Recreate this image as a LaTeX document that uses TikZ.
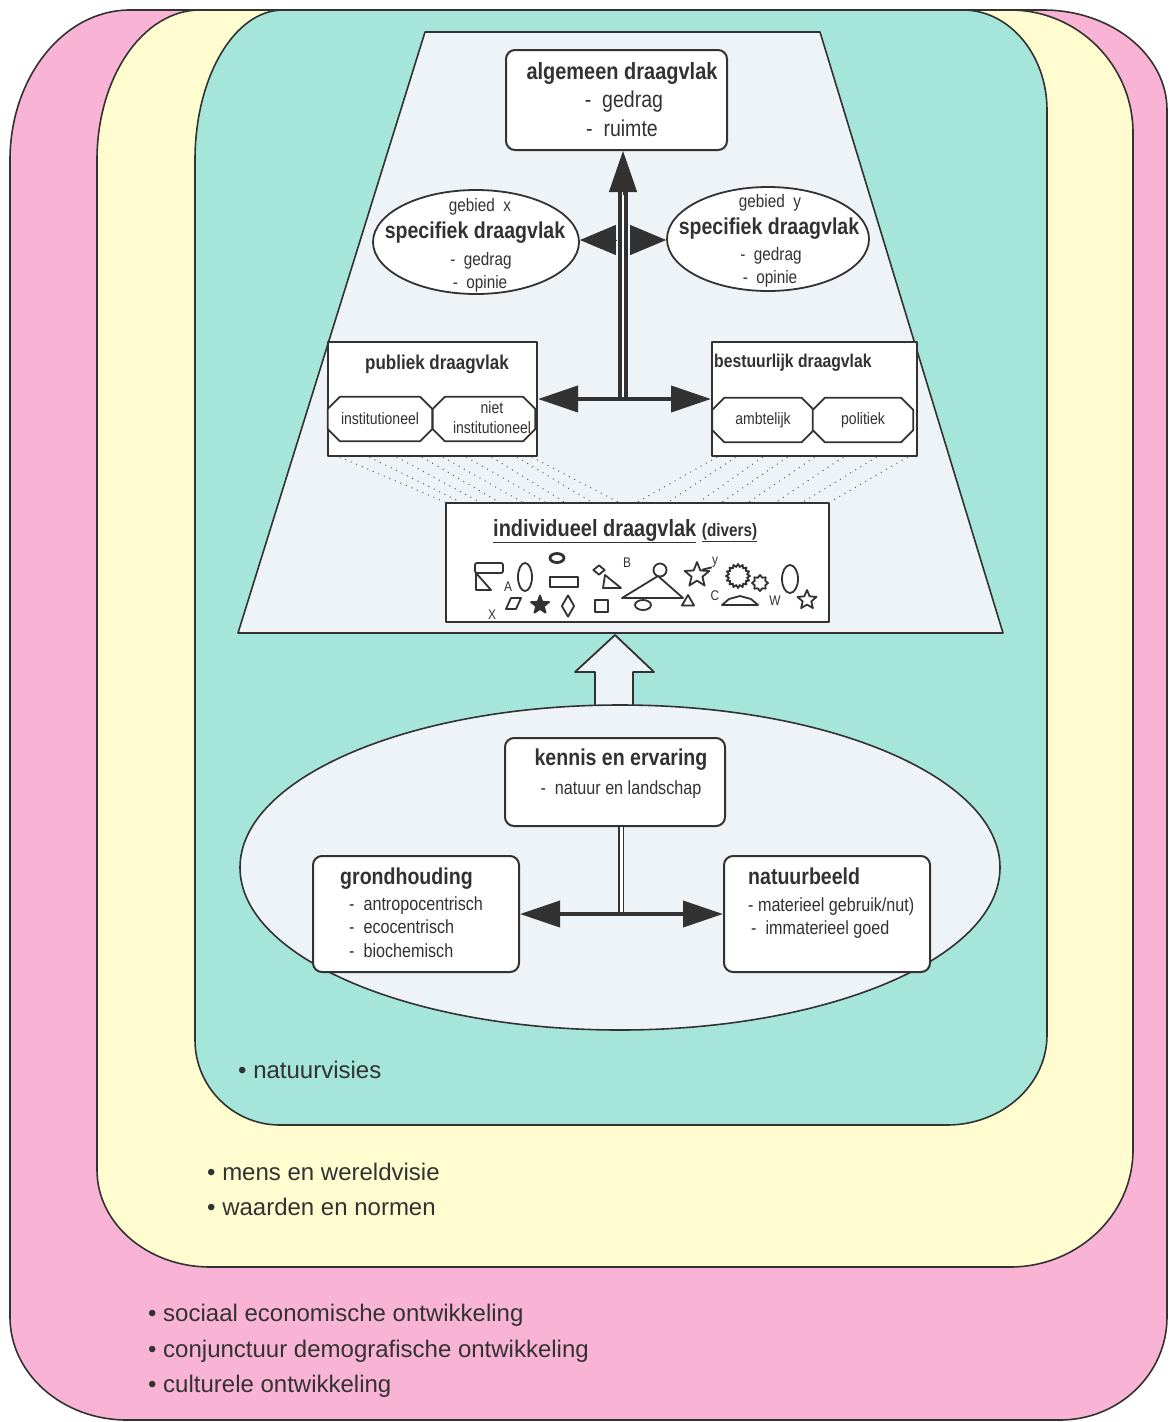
\documentclass[tikz,border=0pt]{standalone}
\usepackage{fontspec}
\setmainfont{Liberation Sans}
\newfontfamily\nf{Liberation Sans}[FakeStretch=0.85]
\usetikzlibrary{shapes.geometric,arrows.meta,calc}

\definecolor{pinkbg}{RGB}{249,180,213}
\definecolor{yellowbg}{RGB}{255,252,208}
\definecolor{tealbg}{RGB}{166,230,218}
\definecolor{panel}{RGB}{238,243,247}
\definecolor{ink}{RGB}{50,50,50}

\newcommand\sz[1]{\fontsize{#1pt}{#1pt}\selectfont}
% octagonal outline around a named rectangle node
\newcommand\chamfer[1]{%
  \draw[draw=ink, line width=1.8pt, fill=white]
    ($(#1.north west)+(12,0)$) -- ($(#1.north east)+(-12,0)$) -- ($(#1.north east)+(0,12)$)
    -- ($(#1.south east)+(0,-12)$) -- ($(#1.south east)+(-12,0)$) -- ($(#1.south west)+(12,0)$)
    -- ($(#1.south west)+(0,-12)$) -- ($(#1.north west)+(0,12)$) -- cycle;}

\tikzset{
  bighead/.tip={Triangle[length=40pt,width=26pt]},
  outline/.style={draw=ink, line width=1.6pt},
  box/.style={draw=ink, line width=2pt, fill=white, rectangle, inner sep=0pt},
  rbox/.style={box, rounded corners=9pt},
  oval/.style={draw=ink, line width=1.8pt, fill=white, ellipse, inner sep=0pt},
  cell/.style={rectangle, inner sep=0pt},
  lbl/.style={text=ink, inner sep=0pt, font=\nf},
  txt/.style={lbl, yshift=-5pt},
  bullet/.style={text=ink, inner sep=0pt, anchor=mid west, yshift=-6pt, font=\fontsize{24pt}{28pt}\selectfont},
  dotline/.style={draw=ink!80, line width=1pt, dash pattern=on 1pt off 5pt},
  sym/.style={draw=ink, line width=1.8pt, fill=white, inner sep=0pt},
  tiny/.style={text=ink, inner sep=0pt, font=\nf\sz{14}},
}

\begin{document}
\begin{tikzpicture}[x=1pt, y=-1pt, line join=round]
\useasboundingbox (0,0) rectangle (1169,1422);
\fill[white] (0,0) rectangle (1169,1422);

% outer context: social and economic developments
\draw[outline, fill=pinkbg]
  (10,160) .. controls (10,77.2) and (63.8,10) .. (130,10) -- (1043,10)
  .. controls (1111.4,10) and (1167,54.8) .. (1167,110) -- (1167,1317)
  .. controls (1167,1373.9) and (1119.1,1420) .. (1060,1420) -- (127,1420)
  .. controls (62.4,1420) and (10,1373.9) .. (10,1317) -- cycle;
% world view, values and norms
\draw[outline, fill=yellowbg]
  (97,160) .. controls (97,77.2) and (143.1,10) .. (200,10) -- (1010,10)
  .. controls (1077.9,10) and (1133,65.1) .. (1133,133) -- (1133,1150)
  .. controls (1133,1214.6) and (1077.9,1267) .. (1010,1267) -- (210,1267)
  .. controls (147.6,1267) and (97,1223.5) .. (97,1170) -- cycle;
% views of nature
\draw[outline, fill=tealbg]
  (195,160) .. controls (195,77.2) and (234.4,10) .. (283,10) -- (963,10)
  .. controls (1009.4,10) and (1047,54.8) .. (1047,110) -- (1047,1035)
  .. controls (1047,1084.7) and (1002.2,1125) .. (947,1125) -- (280,1125)
  .. controls (233.1,1125) and (195,1086.9) .. (195,1040) -- cycle;

% support pyramid
\draw[outline, fill=panel] (425,32) -- (820,32) -- (1003,633) -- (238,633) -- cycle;

% general support
\node[rbox, minimum width=221pt, minimum height=100pt] (algem) at (616.5,100) {};
\node[txt, font=\nf\bfseries\sz{23.5}, anchor=mid] (algemT) at (622,72) {algemeen draagvlak};
\node[txt, font=\nf\sz{23}, anchor=mid] (algemA) at (624,100) {-\ \ gedrag};
\node[txt, font=\nf\sz{23}, anchor=mid] (algemB) at (622,129) {-\ \ ruimte};

% specific support, area x and area y
\node[oval, minimum width=206pt, minimum height=104pt] (spx) at (476,242) {};
\node[txt, font=\nf\sz{18}, anchor=mid] (spxA) at (480,204) {gebied\ \ x};
\node[txt, font=\nf\bfseries\sz{23}, anchor=mid] (spxB) at (475,231) {specifiek draagvlak};
\node[txt, font=\nf\sz{18}, anchor=mid] (spxC) at (481,258) {-\ \ gedrag};
\node[txt, font=\nf\sz{18}, anchor=mid] (spxD) at (480,281) {-\ \ opinie};

\node[oval, minimum width=202pt, minimum height=104pt] (spy) at (768,239) {};
\node[txt, font=\nf\sz{18}, anchor=mid] (spyA) at (770,200) {gebied\ \ y};
\node[txt, font=\nf\bfseries\sz{23}, anchor=mid] (spyB) at (769,227) {specifiek draagvlak};
\node[txt, font=\nf\sz{18}, anchor=mid] (spyC) at (771,253) {-\ \ gedrag};
\node[txt, font=\nf\sz{18}, anchor=mid] (spyD) at (770,276) {-\ \ opinie};

% public support
\node[box, minimum width=209pt, minimum height=114pt] (pub) at (432.5,399) {};
\node[txt, font=\nf\bfseries\sz{20}, anchor=mid] (pubT) at (437,362) {publiek draagvlak};
\node[cell, minimum width=104pt, minimum height=44pt] (inst) at (380,419) {};
\node[cell, minimum width=102pt, minimum height=44pt] (niet) at (484,419) {};
\chamfer{inst}
\chamfer{niet}
\node[lbl, font=\nf\sz{16.5}] (instT) at (inst) {institutioneel};
\node[lbl, font=\nf\fontsize{16.5pt}{20pt}\selectfont, align=center] (nietT) at (492,418) {niet\\institutioneel};

% administrative support
\node[box, minimum width=205pt, minimum height=114pt] (best) at (814.5,399) {};
\node[txt, font=\nf\bfseries\sz{18.5}, anchor=mid west] (bestT) at (714,360) {bestuurlijk draagvlak};
\node[cell, minimum width=101pt, minimum height=44pt] (ambt) at (763,420) {};
\node[cell, minimum width=100pt, minimum height=44pt] (polit) at (863,420) {};
\chamfer{ambt}
\chamfer{polit}
\node[lbl, font=\nf\sz{16.5}] (ambtT) at (ambt) {ambtelijk};
\node[lbl, font=\nf\sz{16.5}] (politT) at (polit) {politiek};

% individual support
\node[box, minimum width=383pt, minimum height=119pt] (indiv) at (637.5,562.5) {};

% dotted links from public and administrative support down to individual support
\foreach \a/\b in {0.06/0.00, 0.2/0.04, 0.33/0.09, 0.45/0.14, 0.55/0.2, 0.66/0.26, 0.78/0.31, 0.9/0.38, 0.97/0.45}
  \draw[dotline] ($(pub.south west)!\a!(pub.south east)$) -- ($(indiv.north west)!\b!(indiv.north east)$);
\foreach \a/\b in {0.03/0.5, 0.12/0.58, 0.25/0.66, 0.37/0.72, 0.5/0.79, 0.64/0.86, 0.8/0.93, 0.95/1.0}
  \draw[dotline] ($(best.south west)!\a!(best.south east)$) -- ($(indiv.north west)!\b!(indiv.north east)$);

\node[lbl, font=\nf\bfseries\sz{23.5}, anchor=base west] (indivT) at (493,536)
  {\underline{individueel draagvlak} {\sz{18}\underline{(divers)}}};

% assorted individuals
\draw[sym, rounded corners=2pt] (475,563) rectangle (503,573);
\draw[sym] (476,573) -- (476,590) -- (491,590) -- cycle;
\node[tiny] (tA) at (508,587) {A};
\draw[sym] (525,577) ellipse [x radius=7pt, y radius=14pt];
\draw[sym, line width=2.8pt] (557,558) ellipse [x radius=7pt, y radius=4.5pt];
\draw[sym, line width=2.2pt] (550,577) rectangle (578,587);
\node[sym, diamond, minimum width=12pt, minimum height=10pt] (d1) at (599,570) {};
\draw[sym] (605,575) -- (621,588) -- (603,588) -- cycle;
\node[tiny] (tB) at (627,563) {B};
\draw[sym] (622,598) -- (658,576) -- (683,598) -- cycle;
\draw[sym] (660,570) circle [radius=6.5pt];
\draw[sym] (643,605) ellipse [x radius=8pt, y radius=5pt];
\node[sym, regular polygon, regular polygon sides=3, minimum size=14pt] (tri2) at (688,602) {};
\node[sym, star, star points=5, star point ratio=2.3, minimum size=26pt] (st1) at (697,575) {};
\node[tiny] (tY) at (715,562) {y};
\draw[sym, fill=none] (st1.north east) -- (tY.south west);
\node[sym, star, star points=16, star point ratio=1.3, minimum size=24pt] (sun) at (738,576) {};
\node[sym, star, star points=8, star point ratio=1.4, minimum size=16pt] (flw) at (760,583) {};
\node[tiny] (tC) at (715,596) {C};
\draw[sym] (722,605) -- (758,605) -- (751,599) -- (740,596) -- (729,599) -- cycle;
\node[tiny] (tW) at (775,601) {W};
\draw[sym] (790,579) ellipse [x radius=8pt, y radius=14pt];
\node[sym, star, star points=5, star point ratio=2.2, minimum size=20pt] (st2) at (807,600) {};
\node[tiny] (tX) at (492,615) {X};
\draw[sym] (506,609) -- (511,598) -- (521,598) -- (516,609) -- cycle;
\node[sym, fill=ink, star, star points=5, star point ratio=2.4, minimum size=19pt] (st3) at (540,605) {};
\node[sym, diamond, minimum width=13pt, minimum height=22pt] (d2) at (568,606) {};
\draw[sym] (595,600) rectangle (608,612);

% central stem and arrows of the pyramid
\coordinate (hub) at (623,399);
\draw[draw=ink, line width=3.6pt, double=white, double distance=2pt] (hub) -- (623,190);
\draw[draw=ink, line width=1pt, fill=ink, -{Triangle[length=41pt,width=28pt]}] (623,195) -- (hub |- algem.south);
\draw[draw=ink, line width=1pt, -{Triangle[length=36pt,width=30pt]}] (616,240) -- (spx.east |- 0,240);
\draw[draw=ink, line width=1pt, -{Triangle[length=36pt,width=30pt]}] (630,240) -- (spy.west |- 0,240);
\draw[draw=ink, line width=4pt, bighead-bighead] (pub.east) -- (best.west);

% hollow arrow from knowledge to support
\draw[outline, line width=1.8pt, fill=panel] (595,714) -- (595,672) -- (575,672) -- (615,635)
  -- (654,672) -- (633,672) -- (633,714) -- cycle;

% knowledge and experience
\node[ellipse, draw=ink, line width=1.6pt, fill=panel, minimum width=760pt, minimum height=325pt, inner sep=0pt] (world) at (620,867.5) {};

\node[rbox, minimum width=220pt, minimum height=88pt] (kennis) at (615,782) {};
\node[txt, font=\nf\bfseries\sz{23}, anchor=mid] (kennisT) at (621,758) {kennis en ervaring};
\node[txt, font=\nf\sz{19}, anchor=mid] (kennisA) at (621,787) {-\ \ natuur en landschap};

\node[rbox, minimum width=206pt, minimum height=116pt] (grond) at (416,914) {};
\node[txt, font=\nf\bfseries\sz{23}, anchor=mid west] (grondT) at (340,877) {grondhouding};
\node[txt, font=\nf\sz{19}, anchor=mid west] (grondA) at (349,903) {-\ \ antropocentrisch};
\node[txt, font=\nf\sz{19}, anchor=mid west] (grondB) at (349,926) {-\ \ ecocentrisch};
\node[txt, font=\nf\sz{19}, anchor=mid west] (grondC) at (349,950) {-\ \ biochemisch};

\node[rbox, minimum width=206pt, minimum height=116pt] (natuur) at (827,914) {};
\node[txt, font=\nf\bfseries\sz{23}, anchor=mid west] (natuurT) at (748,877) {natuurbeeld};
\node[txt, font=\nf\sz{19}, anchor=mid west] (natuurA) at (748,904) {- materieel gebruik/nut)};
\node[txt, font=\nf\sz{19}, anchor=mid west] (natuurB) at (751,927) {-\ \ immaterieel goed};

\coordinate (stem) at ($(kennis.south)+(6,0)$);
\draw[draw=ink, line width=1.6pt, double=white, double distance=3pt] (stem) -- (stem |- grond.east);
\draw[draw=ink, line width=4pt, bighead-bighead] (grond.east) -- (natuur.west);

% context labels
\node[bullet] (b1) at (238,1070) {• natuurvisies};
\node[bullet] (b2) at (207,1172) {• mens en wereldvisie};
\node[bullet] (b3) at (207,1207) {• waarden en normen};
\node[bullet] (b4) at (148,1313) {• sociaal economische ontwikkeling};
\node[bullet] (b5) at (148,1349) {• conjunctuur demografische ontwikkeling};
\node[bullet] (b6) at (148,1384) {• culturele ontwikkeling};
\end{tikzpicture}
\end{document}
